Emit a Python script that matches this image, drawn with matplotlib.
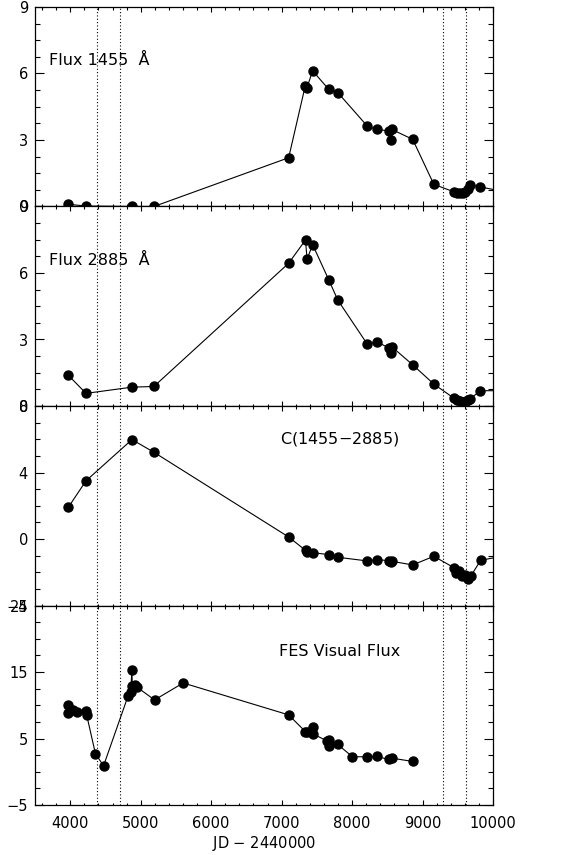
import matplotlib
matplotlib.use("Agg")
import matplotlib.pyplot as plt
import numpy as np
from matplotlib.ticker import MultipleLocator

# IUE UV fluxes (1455 A, 2885 A), UV colour, and FES visual flux vs. JD - 2440000
jd_1455 = [3975, 4224, 4876, 5187, 7100, 7336, 7360, 7440, 7668, 7797, 8218, 8352,
           8519, 8552, 8561, 8860, 9160, 9447, 9487, 9530, 9570, 9605, 9640, 9675,
           9822, 10100]
flux_1455 = [0.10, 0.02, 0.0, 0.0, 2.2, 5.45, 5.36, 6.12, 5.29, 5.14, 3.62, 3.48,
             3.41, 3.02, 3.48, 3.03, 1.0, 0.66, 0.62, 0.60, 0.60, 0.64, 0.80, 0.98,
             0.88, 0.71]

jd_2885 = [3975, 4224, 4876, 5187, 7100, 7339, 7361, 7440, 7668, 7797, 8218, 8352,
           8519, 8552, 8561, 8860, 9160, 9447, 9487, 9530, 9575, 9615, 9650, 9675,
           9820, 10100]
flux_2885 = [1.38, 0.57, 0.85, 0.88, 6.44, 7.49, 6.62, 7.28, 5.70, 4.78, 2.78, 2.90,
             2.62, 2.41, 2.68, 1.86, 0.99, 0.35, 0.26, 0.22, 0.20, 0.22, 0.26, 0.32,
             0.69, 0.69]

jd_color = [3975, 4224, 4876, 5187, 7100, 7339, 7361, 7440, 7668, 7797, 8218, 8352,
            8519, 8552, 8561, 8860, 9160, 9452, 9474, 9518, 9561, 9596, 9649, 9684,
            9825, 10100]
color_uv = [1.92, 3.50, 5.98, 5.22, 0.12, -0.68, -0.80, -0.82, -0.94, -1.10, -1.32,
            -1.24, -1.30, -1.38, -1.34, -1.56, -1.04, -1.74, -2.04, -1.94, -2.20,
            -2.14, -2.40, -2.24, -1.28, -1.06]

jd_fes = [3965, 3974, 4040, 4093, 4225, 4234, 4358, 4473, 4821, 4857, 4876, 4880,
          4923, 4950, 5197, 5603, 7100, 7336, 7360, 7440, 7445, 7650, 7668, 7676,
          7797, 8006, 8218, 8352, 8519, 8560, 8860]
flux_fes = [8.9, 10.0, 9.3, 9.0, 9.1, 8.5, 2.7, 0.9, 11.4, 12.0, 15.3, 12.9,
            13.1, 12.7, 10.8, 13.35, 8.55, 6.05, 6.0, 6.75, 5.7, 4.6, 4.8, 3.8,
            4.1, 2.25, 2.25, 2.3, 1.85, 2.05, 1.55]

epochs = [4380, 4711, 9286, 9616]

panels = [
    (jd_1455, flux_1455, (0, 9), [0, 3, 6, 9], 0.75, "Flux 1455  Å", (0.031, 0.73)),
    (jd_2885, flux_2885, (0, 9), [0, 3, 6, 9], 0.75, "Flux 2885  Å", (0.031, 0.73)),
    (jd_color, color_uv, (-4, 8), [-4, 0, 4, 8], 1.0, "C(1455$-$2885)", (0.535, 0.833)),
    (jd_fes, flux_fes, (-5, 25), [-5, 5, 15, 25], 2.5, "FES Visual Flux", (0.532, 0.767)),
]

plt.rcParams['font.family'] = ['DejaVu Sans']

fig = plt.figure(figsize=(5.65, 8.55), dpi=100)
W, H = 565.0, 855.0
left, right = 35.0, 493.0
top, bottom = 7.0, 805.0
ph = (bottom - top) / 4

for i, (x, y, ylim, yticks, yminor, label, pos) in enumerate(panels):
    y0 = top + (i + 1) * ph
    ax = fig.add_axes([left / W, 1 - y0 / H, (right - left) / W, ph / H])
    x = np.asarray(x)
    y = np.asarray(y)
    ax.plot(x, y, color="black", lw=0.8)
    inside = x <= 10000
    ax.plot(x[inside], y[inside], "o", color="black", ms=6.5, clip_on=False,
            zorder=3)
    for e in epochs:
        ax.axvline(e, color="black", ls=(0, (1, 2)), lw=0.8)
    ax.set_xlim(3500, 10000)
    ax.set_ylim(*ylim)
    ax.set_yticks(yticks)
    ax.yaxis.set_minor_locator(MultipleLocator(yminor))
    ax.set_xticks(range(4000, 10001, 1000))
    ax.xaxis.set_minor_locator(MultipleLocator(200))
    ax.tick_params(axis="y", which="major", direction="in", length=6.5, width=0.8,
                   left=True, right=True, labelsize=10.5, pad=5)
    ax.tick_params(axis="y", which="minor", direction="in", length=3.3, width=0.8,
                   left=True, right=True)
    ax.tick_params(axis="x", which="major", direction="in", length=3.5, width=0.8,
                   top=True, bottom=True, labelsize=10.5, pad=8)
    ax.tick_params(axis="x", which="minor", direction="in", length=1.8, width=0.8,
                   top=True, bottom=True)
    for s in ax.spines.values():
        s.set_linewidth(0.9)
    if i < 3:
        ax.tick_params(axis="x", labelbottom=False)
    else:
        ax.set_xlabel("JD $-$ 2440000", fontsize=10.5, labelpad=2)
    ax.text(pos[0], pos[1], label, transform=ax.transAxes, fontsize=11.5,
            ha="left", va="center")

fig.savefig("out.png", dpi=100)
